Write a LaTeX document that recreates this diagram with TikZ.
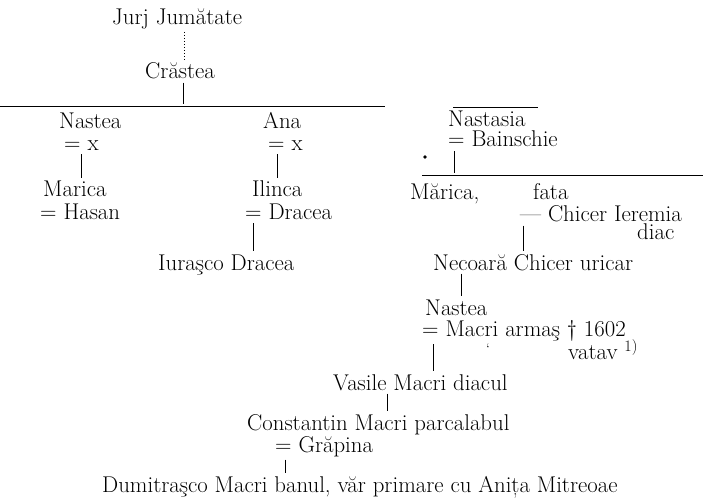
\documentclass[tikz,border=0pt]{standalone}
\usepackage{fontspec}
\begin{document}
\begin{tikzpicture}[x=1pt,y=-1pt,
  txt/.style={anchor=base west,inner sep=0pt,font=\fontsize{22.8}{26}\selectfont},
  ln/.style={line width=1pt},
  vl/.style={ln,shorten <=3pt,shorten >=3pt}]
\useasboundingbox (0,0) rectangle (703,502);
% texts
\node[txt] (jurj) at (112,25) {Jurj Jumătate};
\node[txt] (crastea) at (145,79) {Crăstea};
\node[txt] (nastea1) at (59,129) {Nastea};
\node[txt] (x1) at (64,151) {= x};
\node[txt] (marica) at (43,197) {Marica};
\node[txt] (hasan) at (40,220) {= Hasan};
\node[txt] (ana) at (263,129) {Ana};
\node[txt] (x2) at (268,151) {= x};
\node[txt] (ilinca) at (252,197) {Ilinca};
\node[txt] (dracea) at (245,220) {= Dracea};
\node[txt] (iurasco) at (158,270) {Iuraşco Dracea};
\node[txt] (nastasia) at (448,127) {Nastasia};
\node[txt] (bainschie) at (448,147) {= Bainschie};
\node[txt] (marica2) at (410,200) {Mărica,};
\node[txt] (fata) at (533,200) {fata};
\node[txt] (chicer) at (520,222) {— Chicer Ieremia};
\node[txt] (diac) at (637,240) {diac};
\node[txt] (necoara) at (433,270) {Necoară Chicer uricar};
\node[txt] (nastea2) at (425,315) {Nastea};
\node[txt] (macri) at (422,336) {= Macri armaş † 1602};
\node[txt] (vatav) at (568,359) {vatav \textsuperscript{1)}};
\node[txt] (vasile) at (333,390) {Vasile Macri diacul};
\node[txt] (constantin) at (247,430) {Constantin Macri parcalabul};
\node[txt] (grapina) at (275,452) {= Grăpina};
\node[txt] (dumitrasco) at (102,492) {Dumitraşco Macri banul, văr primare cu Anița Mitreoae};
% connectors
\draw[ln,dotted,shorten <=2pt,shorten >=2pt] (jurj.south -| 184,0) -- (crastea.north -| 184,0);
\coordinate (topmid) at (183,104);
\draw[ln,shorten <=3pt] (crastea.south -| 183,0) -- (topmid);
\draw[ln] (0,107) -- (385,107);
\draw[ln] (453,108) -- (538,108);
\draw[vl] (x1.south -| 81,0) -- (marica.north -| 81,0);
\draw[vl] (x2.south -| 277,0) -- (ilinca.north -| 277,0);
\draw[vl] (dracea.south -| 253,0) -- (iurasco.north -| 253,0);
\fill (425,157) circle (1.8);
\coordinate (bmid) at (454,173);
\draw[ln,shorten <=4pt] (bainschie.south -| 454,0) -- (bmid);
\draw[ln] (422,176) -- (703,176);
\draw[vl] (chicer.south -| 523,0) -- (necoara.north -| 523,0);
\draw[vl] (necoara.south -| 461,0) -- (nastea2.north -| 461,0);
\draw[vl] (macri.south -| 433,0) -- (vasile.north -| 433,0);
\node[inner sep=0pt,font=\fontsize{14}{14}\selectfont] (grave) at (488,349) {`};
\draw[vl] (vasile.south -| 387,0) -- (constantin.north -| 387,0);
\draw[vl] (grapina.south -| 285,0) -- (dumitrasco.north -| 285,0);
\end{tikzpicture}
\end{document}
